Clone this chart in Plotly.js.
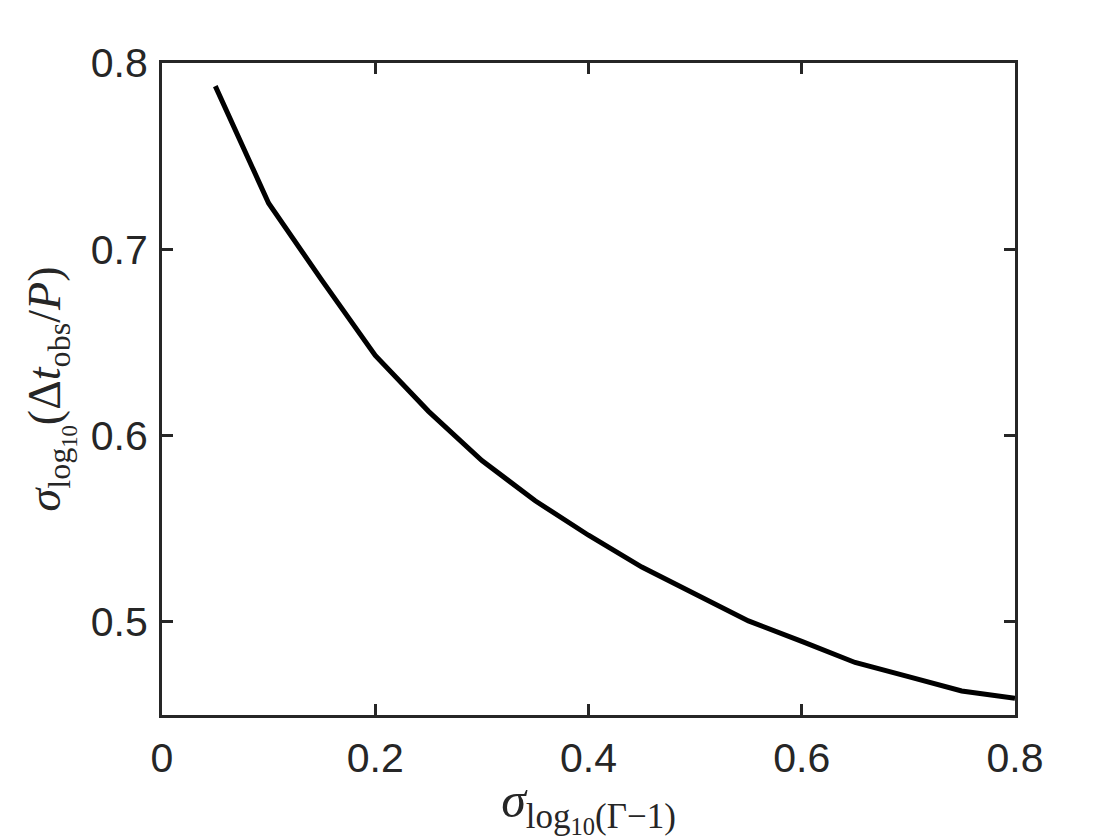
<!DOCTYPE html>
<html>
<head>
<meta charset="utf-8">
<script src="https://cdn.plot.ly/plotly-3.0.1.min.js"></script>
<style>html,body{margin:0;padding:0;background:#fff;}#chart{width:1120px;height:840px;}</style>
</head>
<body>
<div id="chart"></div>
<script>
const sigmaGamma = [0.05, 0.10, 0.15, 0.20, 0.25, 0.30, 0.35, 0.40, 0.45, 0.50, 0.55, 0.60, 0.65, 0.70, 0.75, 0.80];
const sigmaDt = [0.7876, 0.7247, 0.6833, 0.6430, 0.6130, 0.5866, 0.5650, 0.5465, 0.5294, 0.5148, 0.5005, 0.4895, 0.4782, 0.4706, 0.4629, 0.4590];
const xTicks = [0, 0.2, 0.4, 0.6, 0.8];
const xTickText = ['0', '0.2', '0.4', '0.6', '0.8'];
const yTicks = [0.5, 0.6, 0.7, 0.8];
const yTickText = ['0.5', '0.6', '0.7', '0.8'];

const axisCommon = {
  showgrid: false, zeroline: false, showline: true, mirror: 'ticks',
  linecolor: '#262626', linewidth: 3, ticks: 'inside', ticklen: 11, tickwidth: 3, tickcolor: '#262626',
  tickfont: {family: 'Liberation Sans, Arial, sans-serif', size: 41, color: '#262626'}
};

const trace = {
  x: sigmaGamma, y: sigmaDt, type: 'scatter', mode: 'lines',
  line: {color: '#000000', width: 5}
};

const layout = {
  width: 1120, height: 840,
  paper_bgcolor: '#ffffff', plot_bgcolor: '#ffffff',
  margin: {l: 162, r: 105, t: 63, b: 125},
  showlegend: false,
  xaxis: Object.assign({}, axisCommon, {
    range: [0, 0.8], tickvals: xTicks, ticktext: xTickText, ticklabelstandoff: 5,
    title: {text: '<i>σ</i><sub>log<sub>10</sub>(Γ−1)</sub>', standoff: 13,
      font: {family: 'Liberation Serif, serif', size: 50, color: '#262626'}}
  }),
  yaxis: Object.assign({}, axisCommon, {
    range: [0.45, 0.8], tickvals: yTicks, ticktext: yTickText, ticklabelstandoff: 3,
    title: {text: '<i>σ</i><sub>log<sub>10</sub></sub>(Δ<i>t</i><sub>obs</sub>/<i>P</i>)', standoff: 16,
      font: {family: 'Liberation Serif, serif', size: 46, color: '#262626'}}
  })
};

Plotly.newPlot('chart', [trace], layout, {staticPlot: true, displayModeBar: false});
</script>
</body>
</html>
